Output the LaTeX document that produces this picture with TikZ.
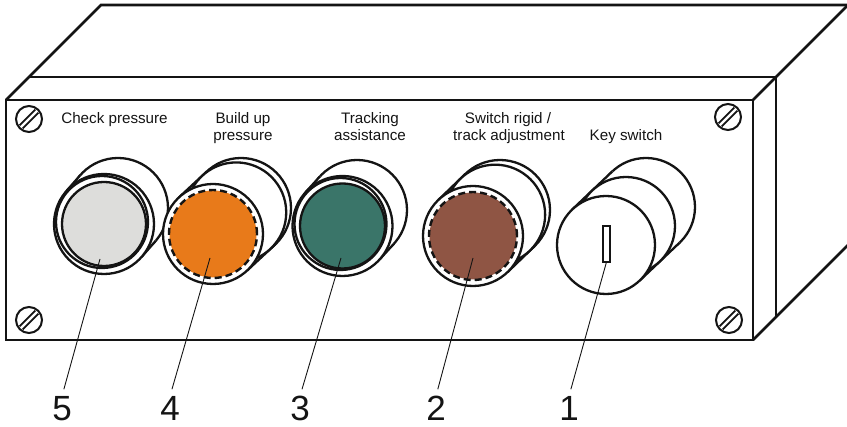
\documentclass[tikz,border=0pt]{standalone}
\usepackage{fontspec}
\setmainfont{Liberation Sans}
\usetikzlibrary{calc}

\definecolor{capgray}{RGB}{221,221,219}
\definecolor{caporange}{RGB}{232,122,26}
\definecolor{capgreen}{RGB}{58,117,105}
\definecolor{capbrown}{RGB}{143,85,68}
\definecolor{ink}{RGB}{20,20,20}

\tikzset{
  edge/.style={draw=ink, line width=2.6pt, line join=miter},
  rim/.style={draw=ink, line width=2.3pt},
  rimfill/.style={rim, fill=white},
  dashring/.style={draw=ink, line width=2.4pt, dash pattern=on 7pt off 4pt},
  leader/.style={draw=ink, line width=0.9pt, shorten >=7pt},
  lbl/.style={font=\fontsize{15.2}{18}\selectfont, text=ink, inner sep=0pt, anchor=base},
  num/.style={font=\fontsize{35}{40}\selectfont, text=ink, inner sep=0pt, anchor=north},
  screwring/.style={draw=ink, line width=2pt, fill=white},
  slot/.style={draw=ink, line width=1.6pt},
}

% white body between a front disc (#1) and a back disc (#2) of radius #3,
% closed by the two outer tangent lines
\newcommand\drumhull[3]{%
  \fill[white] ($(#1)!#3!90:(#2)$) -- ($(#2)!#3!-90:(#1)$)
     -- ($(#2)!#3!90:(#1)$) -- ($(#1)!#3!-90:(#2)$) -- cycle;
  \draw[rim] ($(#1)!#3!90:(#2)$) -- ($(#2)!#3!-90:(#1)$);
  \draw[rim] ($(#1)!#3!-90:(#2)$) -- ($(#2)!#3!90:(#1)$);
}

% slotted screw head
\newcommand\screwhead[1]{%
  \draw[screwring] (#1) circle[radius=13];
  \draw[draw=ink, line width=1.8pt] ($(#1)+(-9.4,-6.2)$) -- ($(#1)+(6.2,9.4)$);
  \draw[draw=ink, line width=1.8pt] ($(#1)+(-6.2,-9.4)$) -- ($(#1)+(9.4,6.2)$);
}

\begin{document}
\begin{tikzpicture}[x=1pt,y=1pt]
\useasboundingbox (0,0) rectangle (847,-427);

% ---------- housing ----------
\coordinate (tl) at (6,-100);
\coordinate (tr) at (753,-100);
\coordinate (br) at (753,-340);
\coordinate (bl) at (6,-340);
\coordinate (lidl) at (29,-77);
\coordinate (lidr) at (776,-77);
\coordinate (backl) at (101,-5);
\coordinate (backr) at (848,-5);
\coordinate (stripb) at (776,-317);
\coordinate (sidebr) at (848,-245);

\draw[edge] (tl) -- (tr) -- (br) -- (bl) -- cycle;
\draw[edge] (tl) -- (backl) -- (backr);
\draw[edge] (lidl) -- (lidr) -- (stripb);
\draw[edge] (tr) -- (backr);
\draw[edge] (br) -- (sidebr);

% ---------- screws ----------
\coordinate (s1) at (29,-119);
\coordinate (s2) at (728,-117);
\coordinate (s3) at (29,-320);
\coordinate (s4) at (729,-320);
\screwhead{s1}
\screwhead{s2}
\screwhead{s3}
\screwhead{s4}

% ---------- button 5: check pressure ----------
\coordinate (f5) at (104,-224);
\coordinate (b5) at (118,-208);
\draw[rimfill] (b5) circle[radius=50];
\drumhull{f5}{b5}{50pt}
\draw[rimfill] (f5) circle[radius=50];
\draw[rim] ($(f5)+(-2,2)$) circle[radius=46];
\draw[rim, fill=capgray] (f5) circle[radius=42];

% ---------- button 4: build up pressure ----------
\coordinate (f4) at (213,-234);
\coordinate (b4) at (241,-208);
\draw[rimfill] (b4) circle[radius=50];
\drumhull{f4}{b4}{50pt}
\draw[rimfill] ($(f4)!0.83!(b4)$) circle[radius=50];
\draw[rimfill] (f4) circle[radius=50];
\fill[caporange] (f4) circle[radius=43.5];
\draw[dashring] (f4) circle[radius=44];

% ---------- button 3: tracking assistance ----------
\coordinate (f3) at (342.5,-226);
\coordinate (b3) at (357,-210);
\draw[rimfill] (b3) circle[radius=50];
\drumhull{f3}{b3}{50pt}
\draw[rimfill] (f3) circle[radius=50];
\draw[rim] ($(f3)+(-2,2)$) circle[radius=46];
\draw[rim, fill=capgreen] (f3) circle[radius=42.5];

% ---------- button 2: switch rigid / track adjustment ----------
\coordinate (f2) at (473,-236);
\coordinate (b2) at (500,-210);
\draw[rimfill] (b2) circle[radius=50];
\drumhull{f2}{b2}{50pt}
\draw[rimfill] ($(f2)!0.82!(b2)$) circle[radius=50];
\draw[rimfill] (f2) circle[radius=50];
\fill[capbrown] (f2) circle[radius=43.5];
\draw[dashring] (f2) circle[radius=44];

% ---------- button 1: key switch ----------
\coordinate (f1) at (606,-245);
\coordinate (b1) at (646,-207);
\draw[rimfill] (b1) circle[radius=49];
\drumhull{f1}{b1}{49pt}
\draw[rimfill] ($(f1)!0.5!(b1)$) circle[radius=49];
\draw[rimfill] (f1) circle[radius=49];
\draw[slot] (603,-226) rectangle (610,-262);

% ---------- labels ----------
\node[lbl] (t5)  at (114.5,-124) {Check pressure};
\node[lbl] (t4a) at (243,-124) {Build up};
\node[lbl] (t4b) at (243,-141) {pressure};
\node[lbl] (t3a) at (370,-124) {Tracking};
\node[lbl] (t3b) at (370,-141) {assistance};
\node[lbl] (t2a) at (508,-124) {Switch rigid /};
\node[lbl] (t2b) at (509,-141) {track adjustment};
\node[lbl] (t1)  at (626,-141) {Key switch};

% ---------- item numbers and leaders ----------
\node[num] (n5) at (62,-396) {5};
\node[num] (n4) at (170,-396) {4};
\node[num] (n3) at (300,-396) {3};
\node[num] (n2) at (436,-396) {2};
\node[num] (n1) at (569,-396) {1};

\coordinate (l5) at (100,-259);
\coordinate (l4) at (210,-258);
\coordinate (l3) at (341,-258);
\coordinate (l2) at (473,-258);
\coordinate (l1) at (606.5,-262);

\draw[leader] (l5) -- (n5.north);
\draw[leader] (l4) -- (n4.north);
\draw[leader] (l3) -- (n3.north);
\draw[leader] (l2) -- (n2.north);
\draw[leader] (l1) -- (n1.north);
\end{tikzpicture}
\end{document}
